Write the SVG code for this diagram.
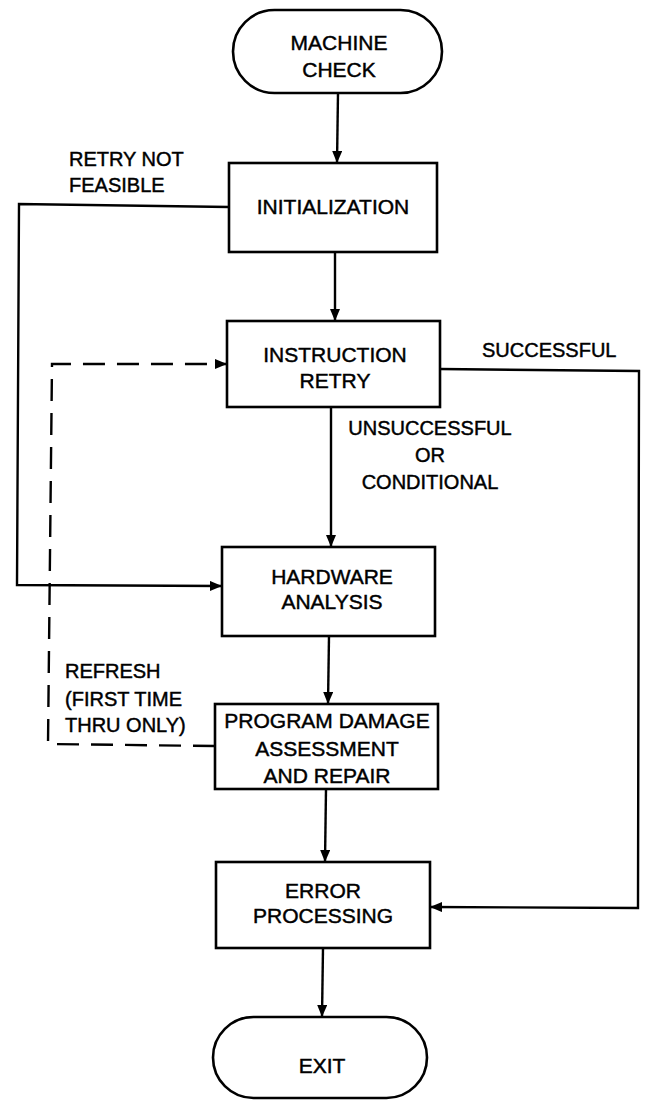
<svg xmlns="http://www.w3.org/2000/svg" width="653" height="1101" viewBox="0 0 653 1101">
  <style>
    .shape { fill: #ffffff; stroke: #000000; stroke-width: 2.6; }
    .edge { fill: none; stroke: #000000; stroke-width: 2.4; }
    .dash { stroke-dasharray: 22 12; }
    .label { font-family: "Liberation Sans", Arial, sans-serif; font-size: 20px; fill: #000000; stroke: #000000; stroke-width: 0.45; }
    .node-text { font-family: "Liberation Sans", Arial, sans-serif; font-size: 21px; fill: #000000; stroke: #000000; stroke-width: 0.45; text-anchor: middle; }
  </style>
  <defs>
    <marker id="arrow" viewBox="0 0 12 10" refX="12" refY="5" markerWidth="12" markerHeight="10" markerUnits="userSpaceOnUse" orient="auto">
      <path d="M0,0 L12,5 L0,10 Z" fill="#000000"/>
    </marker>
  </defs>
  <rect width="653" height="1101" fill="#ffffff"/>

  <!-- connectors -->
  <g id="connectors">
    <path class="edge" d="M338,93 L337,163" marker-end="url(#arrow)"/>
    <path class="edge" d="M335,252 L335,321" marker-end="url(#arrow)"/>
    <path class="edge" d="M331,407 L331,547" marker-end="url(#arrow)"/>
    <path class="edge" d="M329,636 L328,704" marker-end="url(#arrow)"/>
    <path class="edge" d="M326,789 L325,862" marker-end="url(#arrow)"/>
    <path class="edge" d="M323,948 L322,1017" marker-end="url(#arrow)"/>
    <!-- retry not feasible -->
    <path class="edge" d="M229,207 L19,204 L17,585 L222,586" marker-end="url(#arrow)"/>
    <!-- successful -->
    <path class="edge" d="M440,369 L639,371 L638,908 L430,907" marker-end="url(#arrow)"/>
    <!-- refresh (dashed) -->
    <path class="edge dash" d="M215,746 L48,744 L52,364 L227,364" marker-end="url(#arrow)"/>
  </g>

  <!-- labels -->
  <g id="labels">
    <text class="label" x="69" y="166">RETRY NOT</text>
    <text class="label" x="69" y="192">FEASIBLE</text>
    <text class="label" x="482" y="357">SUCCESSFUL</text>
    <text class="label" x="430" y="435" text-anchor="middle">UNSUCCESSFUL</text>
    <text class="label" x="430" y="462" text-anchor="middle">OR</text>
    <text class="label" x="430" y="489" text-anchor="middle">CONDITIONAL</text>
    <text class="label" x="65" y="678">REFRESH</text>
    <text class="label" x="65" y="706">(FIRST TIME</text>
    <text class="label" x="65" y="732">THRU ONLY)</text>
  </g>

  <g id="machine-check">
    <rect class="shape" x="233" y="10" width="209" height="83" rx="41.5" ry="41.5"/>
    <text class="node-text" x="339" y="50">MACHINE</text>
    <text class="node-text" x="339" y="77">CHECK</text>
  </g>

  <g id="initialization">
    <rect class="shape" x="229" y="163" width="208" height="89"/>
    <text class="node-text" x="333" y="214">INITIALIZATION</text>
  </g>

  <g id="instruction-retry">
    <rect class="shape" x="227" y="321" width="213" height="86"/>
    <text class="node-text" x="335" y="362">INSTRUCTION</text>
    <text class="node-text" x="335" y="388">RETRY</text>
  </g>

  <g id="hardware-analysis">
    <rect class="shape" x="222" y="547" width="213" height="89"/>
    <text class="node-text" x="332" y="584">HARDWARE</text>
    <text class="node-text" x="332" y="609">ANALYSIS</text>
  </g>

  <g id="program-damage">
    <rect class="shape" x="215" y="704" width="223" height="85"/>
    <text class="node-text" x="327" y="728">PROGRAM DAMAGE</text>
    <text class="node-text" x="327" y="756">ASSESSMENT</text>
    <text class="node-text" x="327" y="783">AND REPAIR</text>
  </g>

  <g id="error-processing">
    <rect class="shape" x="216" y="862" width="214" height="86"/>
    <text class="node-text" x="323" y="898">ERROR</text>
    <text class="node-text" x="323" y="923">PROCESSING</text>
  </g>

  <g id="exit">
    <rect class="shape" x="213" y="1017" width="214" height="81" rx="40.5" ry="40.5"/>
    <text class="node-text" x="322" y="1073">EXIT</text>
  </g>
</svg>
